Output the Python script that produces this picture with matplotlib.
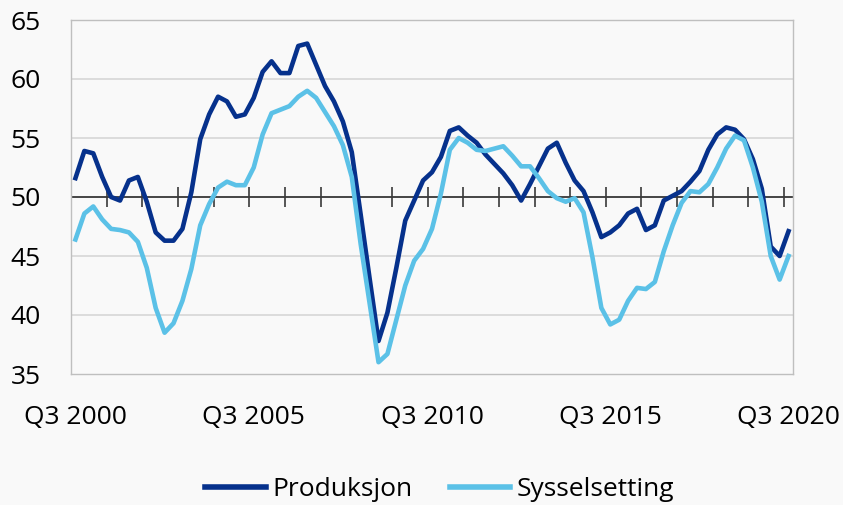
import numpy as np
import matplotlib
matplotlib.use("Agg")
import matplotlib.pyplot as plt

plt.rcParams['font.family'] = ['Open Sans', 'DejaVu Sans']

# Quarterly data, Q3 2000 .. Q3 2020
start_year, start_q = 2000, 3
n_quarters = 81

produksjon = [
    51.6, 53.9, 53.7, 51.7, 50.0, 49.7, 51.4, 51.7, 49.6, 47.0,
    46.3, 46.3, 47.3, 50.4, 54.9, 57.0, 58.5, 58.1, 56.8, 57.0,
    58.4, 60.6, 61.5, 60.5, 60.5, 62.8, 63.0, 61.2, 59.4, 58.1,
    56.4, 53.8, 48.5, 43.1, 37.8, 40.2, 44.0, 48.0, 49.7, 51.4,
    52.1, 53.4, 55.6, 55.9, 55.2, 54.6, 53.6, 52.8, 52.0, 51.0,
    49.7, 51.1, 52.6, 54.1, 54.6, 52.9, 51.4, 50.5, 48.7, 46.6,
    47.0, 47.6, 48.6, 49.0, 47.2, 47.6, 49.7, 50.1, 50.5, 51.3,
    52.2, 54.0, 55.3, 55.9, 55.7, 54.9, 53.2, 50.7, 45.8, 45.0,
    47.1,
]

sysselsetting = [
    46.4, 48.6, 49.2, 48.1, 47.3, 47.2, 47.0, 46.2, 44.0, 40.6,
    38.5, 39.3, 41.2, 43.9, 47.6, 49.4, 50.8, 51.3, 51.0, 51.0,
    52.5, 55.3, 57.1, 57.4, 57.7, 58.5, 59.0, 58.4, 57.2, 56.0,
    54.4, 51.7, 46.0, 41.0, 36.0, 36.7, 39.6, 42.5, 44.6, 45.6,
    47.3, 50.3, 54.0, 55.0, 54.6, 54.0, 53.9, 54.1, 54.3, 53.5,
    52.6, 52.6, 51.6, 50.5, 49.9, 49.6, 49.9, 48.7, 44.9, 40.6,
    39.2, 39.6, 41.2, 42.3, 42.2, 42.8, 45.4, 47.6, 49.5, 50.5,
    50.4, 51.1, 52.5, 54.1, 55.2, 54.8, 52.5, 49.6, 45.0, 43.0,
    45.0,
]

y_ticks = [35, 40, 45, 50, 55, 60, 65]
label_every = 20
tick_every = 4

labels = []
for k in range(n_quarters):
    q = start_q - 1 + k
    labels.append(f"Q{q % 4 + 1} {start_year + q // 4}")

x = np.arange(n_quarters)

bg = '#f9f9f9'
dark = '#06318c'
light = '#5bc1e7'

fig = plt.figure(figsize=(8.43, 5.05), dpi=100, facecolor=bg)
ax = fig.add_axes([71 / 843, 1 - 374 / 505, 722 / 843, 354 / 505])
ax.set_facecolor(bg)

ax.set_xlim(-0.5, n_quarters - 0.5)
ax.set_ylim(35, 65)

for g in [40, 45, 55, 60]:
    ax.axhline(g, color='#d9d9d9', lw=1.3, zorder=1)
ax.axhline(50, color='#262626', lw=1.2, zorder=2)
bounds = np.arange(-0.5, n_quarters - 0.5, tick_every)
ax.vlines(bounds, 49.15, 50.85, color='#3a3a3a', lw=1.2, zorder=2)

ax.plot(x, produksjon, color=dark, lw=3.3, label='Produksjon', zorder=3,
        solid_joinstyle='round')
ax.plot(x, sysselsetting, color=light, lw=3.3, label='Sysselsetting', zorder=4,
        solid_joinstyle='round')

ax.set_yticks(y_ticks)
ax.set_yticklabels([str(v) for v in y_ticks])
ax.set_xticks(x[::label_every])
ax.set_xticklabels(labels[::label_every])
ax.tick_params(axis='y', length=0, pad=22, labelsize=19, colors='#000000')
ax.tick_params(axis='x', length=0, pad=22, labelsize=19, colors='#000000')

for s in ax.spines.values():
    s.set_color('#bfbfbf')
    s.set_linewidth(1.0)

leg = fig.legend(loc='center', bbox_to_anchor=(440 / 843, 1 - 490 / 505),
                 ncol=2, frameon=False, fontsize=19, handlelength=2.3,
                 handletextpad=0.25, columnspacing=1.4)
for h in leg.get_lines():
    h.set_linewidth(4)

fig.savefig('out.png', dpi=100, facecolor=bg)
